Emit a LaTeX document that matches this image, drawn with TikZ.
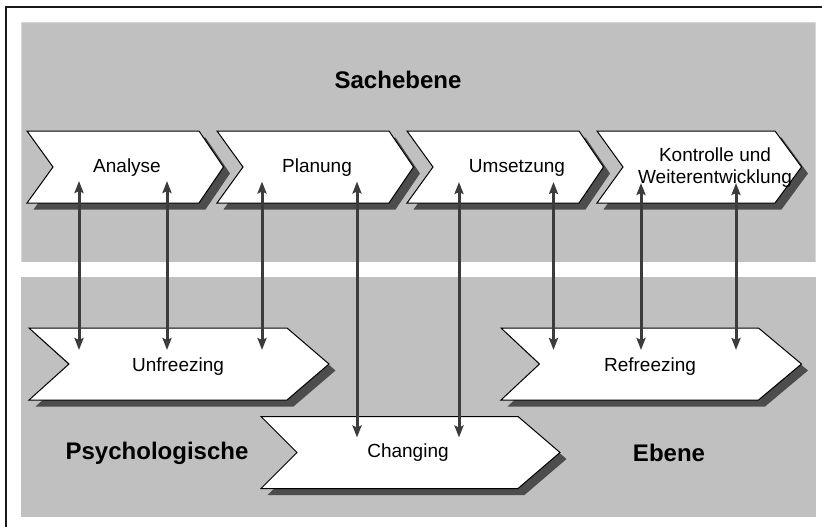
\documentclass[tikz,border=0pt]{standalone}
\usepackage{fontspec}
\setmainfont{Liberation Sans}
\usetikzlibrary{arrows.meta}
\definecolor{bggray}{HTML}{C0C0C0}
\definecolor{bgedge}{HTML}{D6D6D6}
\definecolor{shadowgray}{HTML}{4D4D4D}
\definecolor{arrowgray}{HTML}{3C3C3C}
\newcommand\mychev[6]{% name, x, y, width, notch depth, tip depth
  \begin{scope}[shift={(#2,#3)}]
    \fill[shadowgray,shift={(6.5,6.5)}] (0,0) -- (#4,0) -- ({#4+#6},36) -- (#4,72) -- (0,72) -- (#5,36) -- cycle;
    \draw[chevbox] (0,0) -- (#4,0) -- ({#4+#6},36) -- (#4,72) -- (0,72) -- (#5,36) -- cycle;
    \coordinate (#1) at ({(#4+#6)/2},36);
  \end{scope}}
\tikzset{
  chevbox/.style={fill=white,draw=black,line width=1pt,line join=miter},
  lbl/.style={font=\fontsize{19}{22}\selectfont,align=center,inner sep=0pt},
  title/.style={font=\fontsize{24}{28}\selectfont\bfseries,inner sep=0pt},
  link/.style={arrowgray,line width=3pt,{Stealth[length=12pt,width=9pt,inset=2pt]}-{Stealth[length=12pt,width=9pt,inset=2pt]}},
}
\begin{document}
\begin{tikzpicture}[x=1pt,y=-1pt]
\useasboundingbox (0,0) rectangle (822,527);
\fill[white] (0,0) rectangle (822,527);
% frame (right and bottom edges outside picture)
\draw[black!90,line width=1.5pt] (822,7) -- (6,7) -- (6,527);
% level backgrounds
\fill[bggray] (21,22.5) rectangle (815.5,261.5);
\draw[bgedge,line width=1pt] (21.5,262) -- (21.5,23) -- (815,23) -- (815,262);
\fill[bggray] (20.5,277) rectangle (815.5,516.5);
% upper chevrons
\mychev{cA}{27}{131}{172}{26}{24.5}
\mychev{cP}{217}{131}{172}{26}{24.5}
\mychev{cU}{407}{131}{172}{26}{24.5}
\mychev{cK}{597}{131}{178}{26}{26.5}
% lower chevrons
\mychev{cUf}{29}{328}{258}{40}{42}
\mychev{cCh}{261}{416.5}{257}{36}{42}
\mychev{cRf}{501}{328}{257.5}{38.5}{43}
% labels
\node[lbl] (analyse) at (127,168) {Analyse};
\node[lbl] (planung) at (317,168) {Planung};
\node[lbl] (umsetzung) at (517,168) {Umsetzung};
\node[lbl] (kontrolle) at (715,167.5) {Kontrolle und\\Weiterentwicklung};
\node[lbl] (unfreezing) at (178,367) {Unfreezing};
\node[lbl] (changing) at (408,453) {Changing};
\node[lbl] (refreezing) at (650,367) {Refreezing};
\node[title] (sach) at (398,80) {Sachebene};
\node[title] (psy) at (157,453) {Psychologische};
\node[title] (ebene) at (669,453) {Ebene};
% connector end points
\coordinate (a1) at (79,181);    \coordinate (u1) at (79,350);
\coordinate (a2) at (167,181);   \coordinate (u2) at (167,350);
\coordinate (p1) at (262,181.5); \coordinate (u3) at (262,350);
\coordinate (p2) at (357,181.5); \coordinate (c1) at (357,437.5);
\coordinate (m1) at (459,182);   \coordinate (c2) at (459,437.5);
\coordinate (m2) at (553.5,182); \coordinate (r1) at (553.5,350);
\coordinate (k1) at (641,183);   \coordinate (r2) at (641,350);
\coordinate (k2) at (736,183);   \coordinate (r3) at (736,350);
\draw[link] (a1) -- (u1);
\draw[link] (a2) -- (u2);
\draw[link] (p1) -- (u3);
\draw[link] (p2) -- (c1);
\draw[link] (m1) -- (c2);
\draw[link] (m2) -- (r1);
\draw[link] (k1) -- (r2);
\draw[link] (k2) -- (r3);
\end{tikzpicture}
\end{document}
